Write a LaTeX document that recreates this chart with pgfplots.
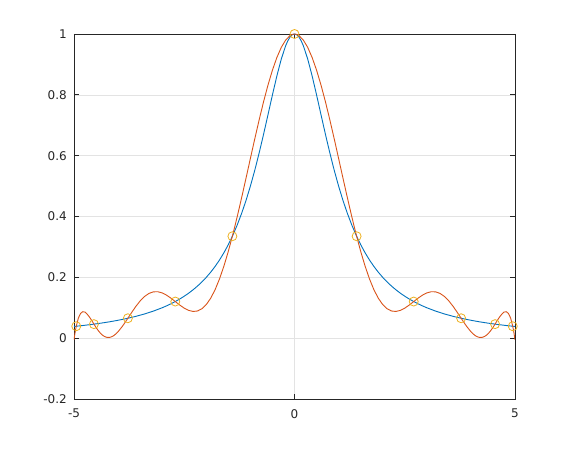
\documentclass[border=0pt]{standalone}
\usepackage{pgfplots}
\pgfplotsset{compat=1.18}
\usepackage{fontspec}
\setmainfont{DejaVu Sans}
\definecolor{oblue}{rgb}{0,0.447,0.741}
\definecolor{ored}{rgb}{0.85,0.325,0.098}
\definecolor{oyel}{rgb}{0.929,0.694,0.125}
\definecolor{axgray}{rgb}{0.15,0.15,0.15}
\begin{document}
\begin{tikzpicture}
\begin{axis}[
  at={(0pt,0pt)}, anchor=south west,
  scale only axis, width=441pt, height=365pt,
  xmin=-5, xmax=5, ymin=-0.2, ymax=1,
  xtick={-5,0,5}, ytick={-0.2,0,0.2,0.4,0.6,0.8,1},
  grid=major, major grid style={gray!22, line width=0.6pt},
  tick align=inside, major tick length=5pt,
  axis line style={axgray, line width=0.7pt},
  tick style={axgray, line width=0.7pt},
  ticklabel style={font=\fontsize{12}{14}\selectfont, inner sep=0pt, text=axgray},
  yticklabel style={xshift=-7pt, /pgf/number format/fixed},
  xticklabel style={yshift=-10pt},
  /pgf/number format/assume math mode=true,
]
\addplot[oblue, line width=0.9pt] coordinates {
(-5.0,0.038462)(-4.8,0.041597)(-4.6,0.045126)(-4.4,0.049116)(-4.2,0.053648)(-4.0,0.058824)
(-3.8,0.064767)(-3.6,0.071633)(-3.4,0.079618)(-3.2,0.088968)(-3.0,0.1)
(-2.9,0.106270)(-2.8,0.113122)(-2.7,0.120627)(-2.6,0.128866)(-2.5,0.137931)(-2.4,0.147929)
(-2.3,0.158983)(-2.2,0.171233)(-2.1,0.184843)(-2.0,0.2)(-1.9,0.216920)(-1.8,0.235849)
(-1.7,0.257069)(-1.6,0.280899)(-1.5,0.307692)(-1.4,0.337838)(-1.3,0.371747)(-1.2,0.409836)
(-1.1,0.452489)(-1.0,0.5)(-0.9,0.552486)(-0.8,0.609756)(-0.7,0.671141)(-0.6,0.735294)
(-0.5,0.8)(-0.4,0.862069)(-0.3,0.917431)(-0.2,0.961538)(-0.15,0.977995)(-0.1,0.990099)(-0.05,0.997506)
(0,1)
(0.05,0.997506)(0.1,0.990099)(0.15,0.977995)(0.2,0.961538)(0.3,0.917431)(0.4,0.862069)(0.5,0.8)
(0.6,0.735294)(0.7,0.671141)(0.8,0.609756)(0.9,0.552486)(1.0,0.5)(1.1,0.452489)
(1.2,0.409836)(1.3,0.371747)(1.4,0.337838)(1.5,0.307692)(1.6,0.280899)(1.7,0.257069)
(1.8,0.235849)(1.9,0.216920)(2.0,0.2)(2.1,0.184843)(2.2,0.171233)(2.3,0.158983)
(2.4,0.147929)(2.5,0.137931)(2.6,0.128866)(2.7,0.120627)(2.8,0.113122)(2.9,0.106270)
(3.0,0.1)(3.2,0.088968)(3.4,0.079618)(3.6,0.071633)(3.8,0.064767)(4.0,0.058824)
(4.2,0.053648)(4.4,0.049116)(4.6,0.045126)(4.8,0.041597)(5.0,0.038462)
};
\addplot[ored, line width=0.9pt] coordinates {
(-5.0,-0.00533)(-4.975,0.01890)(-4.95,0.03860)(-4.9,0.06637)(-4.85,0.08152)(-4.8,0.08705)
(-4.75,0.08554)(-4.7,0.07881)(-4.65,0.06955)(-4.6,0.05852)(-4.55,0.04677)(-4.5,0.03518)
(-4.45,0.02492)(-4.4,0.01623)(-4.35,0.00949)(-4.3,0.00489)(-4.25,0.00252)(-4.2,0.00236)
(-4.15,0.00433)(-4.1,0.00829)(-4.05,0.01403)(-4.0,0.02132)(-3.9,0.03953)(-3.8,0.06075)
(-3.7,0.08287)(-3.6,0.10396)(-3.5,0.12242)(-3.4,0.13710)(-3.3,0.14712)(-3.2,0.15231)
(-3.1,0.15271)(-3.0,0.14878)(-2.9,0.14131)(-2.8,0.13132)(-2.7,0.12001)(-2.6,0.10868)
(-2.5,0.09867)(-2.4,0.09131)(-2.3,0.08781)(-2.2,0.08927)(-2.1,0.09660)(-2.0,0.11049)
(-1.9,0.13141)(-1.8,0.15957)(-1.7,0.19493)(-1.6,0.23718)(-1.5,0.28578)(-1.4,0.33998)
(-1.3,0.39880)(-1.2,0.46111)(-1.1,0.52564)(-1.0,0.59104)(-0.9,0.65586)(-0.8,0.71868)
(-0.7,0.77808)(-0.6,0.83269)(-0.5,0.88125)(-0.4,0.92263)(-0.3,0.95587)(-0.2,0.98019)
(-0.1,0.99502)(-0.05,0.998753)(0,1)(0.05,0.998753)(0.1,0.99502)
(0.2,0.98019)(0.3,0.95587)(0.4,0.92263)(0.5,0.88125)(0.6,0.83269)(0.7,0.77808)
(0.8,0.71868)(0.9,0.65586)(1.0,0.59104)(1.1,0.52564)(1.2,0.46111)(1.3,0.39880)
(1.4,0.33998)(1.5,0.28578)(1.6,0.23718)(1.7,0.19493)(1.8,0.15957)(1.9,0.13141)
(2.0,0.11049)(2.1,0.09660)(2.2,0.08927)(2.3,0.08781)(2.4,0.09131)(2.5,0.09867)
(2.6,0.10868)(2.7,0.12001)(2.8,0.13132)(2.9,0.14131)(3.0,0.14878)(3.1,0.15271)
(3.2,0.15231)(3.3,0.14712)(3.4,0.13710)(3.5,0.12242)(3.6,0.10396)(3.7,0.08287)
(3.8,0.06075)(3.9,0.03953)(4.0,0.02132)(4.05,0.01403)(4.1,0.00829)(4.15,0.00433)
(4.2,0.00236)(4.25,0.00252)(4.3,0.00489)(4.35,0.00949)(4.4,0.01623)(4.45,0.02492)
(4.5,0.03518)(4.55,0.04677)(4.6,0.05852)(4.65,0.06955)(4.7,0.07881)(4.75,0.08554)
(4.8,0.08705)(4.85,0.08152)(4.9,0.06637)(4.95,0.03860)(4.975,0.01890)(5.0,-0.00533)
};
\addplot[only marks, mark=o, mark size=4.5pt, mark options={oyel, line width=0.8pt}] coordinates {
(-4.949107,0.039225)(-4.54816,0.046113)(-3.77875,0.065450)(-2.703204,0.120376)(-1.408663,0.335083)
(0,1)
(1.408663,0.335083)(2.703204,0.120376)(3.77875,0.065450)(4.54816,0.046113)(4.949107,0.039225)
};
\end{axis}
\pgfresetboundingbox
\path[use as bounding box] (-74pt,-51pt) rectangle (496pt,399pt);
\end{tikzpicture}
\end{document}
